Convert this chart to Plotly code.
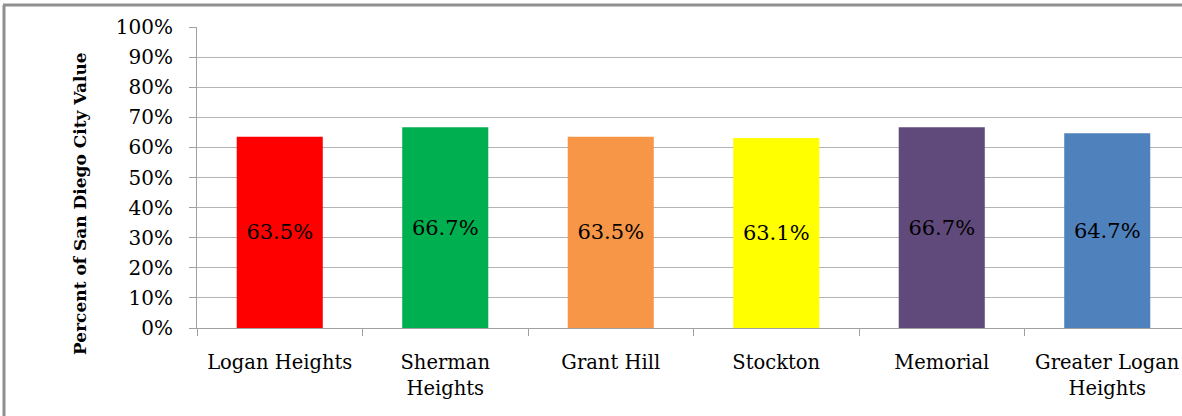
import plotly.graph_objects as go

categories = ["Logan Heights", "Sherman<br>Heights", "Grant Hill", "Stockton", "Memorial", "Greater Logan<br>Heights"]
values = [63.5, 66.7, 63.5, 63.1, 66.7, 64.7]
colors = ["#FF0000", "#00B050", "#F79646", "#FFFF00", "#604A7B", "#4F81BD"]
y_title = "Percent of San Diego City Value"

W, H = 1182, 416
L, R, T, B = 197, 0, 27, 88
pw, ph = W - L - R, H - T - B

def px_x(px):
    return (px - L) / pw

def px_y(py):
    return (H - B - py) / ph

font_family = "DejaVu Serif"

fig = go.Figure(
    go.Bar(
        x=categories,
        y=values,
        marker=dict(color=colors, line=dict(width=0)),
        width=0.52,
        text=values,
        texttemplate="%{y:.1f}%",
        textposition="inside",
        insidetextanchor="middle",
        textangle=0,
        constraintext="none",
        textfont=dict(family=font_family, size=21, color="black"),
        hoverinfo="skip",
    )
)

fig.update_layout(
    width=W,
    height=H,
    margin=dict(l=L, r=R, t=T, b=B, pad=0),
    paper_bgcolor="white",
    plot_bgcolor="white",
    showlegend=False,
    font=dict(family=font_family, size=20, color="black"),
    xaxis=dict(
        type="category",
        range=[-0.5, -0.5 + pw / 165.5],
        tickson="boundaries",
        ticks="outside",
        ticklen=7,
        tickcolor="#A0A0A0",
        tickwidth=1,
        showline=True,
        linecolor="#A0A0A0",
        linewidth=1,
        showgrid=False,
        ticklabelstandoff=17,
        tickfont=dict(family=font_family, size=19.5, color="black"),
    ),
    yaxis=dict(
        range=[0, 100],
        dtick=10,
        ticksuffix="%",
        ticks="outside",
        ticklen=7,
        tickcolor="#A0A0A0",
        showline=True,
        linecolor="#A0A0A0",
        linewidth=1,
        showgrid=True,
        gridcolor="#B4B4B4",
        gridwidth=1,
        zeroline=False,
        ticklabelstandoff=12,
        tickfont=dict(family=font_family, size=20, color="black"),
    ),
    annotations=[
        dict(
            text=y_title,
            xref="paper",
            yref="paper",
            x=px_x(80),
            y=px_y(204),
            textangle=-90,
            showarrow=False,
            font=dict(family=font_family, size=17, color="black", weight="bold"),
            xanchor="center",
            yanchor="middle",
        )
    ],
    shapes=[
        dict(type="line", xref="paper", yref="paper",
             x0=px_x(4), x1=px_x(4), y0=px_y(5), y1=px_y(430),
             line=dict(color="#909090", width=3)),
        dict(type="line", xref="paper", yref="paper",
             x0=px_x(3), x1=px_x(1200), y0=px_y(5), y1=px_y(5),
             line=dict(color="#909090", width=3)),
    ],
)

fig.write_html(
    "out.html",
    config={"displayModeBar": False},
    post_script="document.body.style.margin='0';document.body.style.overflow='hidden';",
)
